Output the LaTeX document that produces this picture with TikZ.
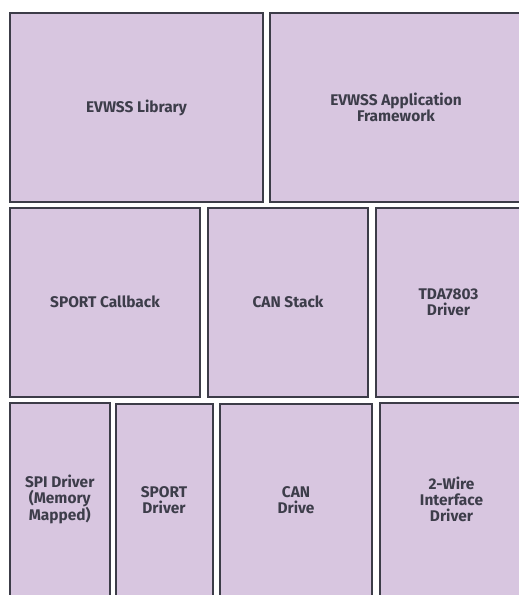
\documentclass[tikz,border=0pt]{standalone}
\usepackage{fontspec}
\setmainfont{Fira Sans}
\usetikzlibrary{positioning}

\definecolor{blockfill}{HTML}{D8C6E0}
\definecolor{blockline}{HTML}{3C3C48}
\definecolor{blocktext}{HTML}{3D3D4A}

\tikzset{
  block/.style={draw=blockline, fill=blockfill, line width=2bp,
    text=blocktext, font=\bfseries\fontsize{15.5}{16}\selectfont,
    align=center, inner sep=0pt},
}

\begin{document}
\begin{tikzpicture}[x=1bp,y=-1bp]
    \useasboundingbox (0,0) rectangle (519,595);
    \clip (0,0) rectangle (519,595);

    % top row
    \node[block, minimum width=253bp, minimum height=189bp] (lib) at (136.5,107.5) {EVWSS Library};
    \node[block, minimum width=252bp, minimum height=189bp] (app) at (396,107.5) {EVWSS Application\\Framework};

    % middle row
    \node[block, minimum width=190bp, minimum height=188.5bp] (callback) at (105,302.25) {SPORT Callback};
    \node[block, minimum width=160bp, minimum height=188.5bp] (canstack) at (288,302.25) {CAN Stack};
    \node[block, minimum width=145bp, minimum height=188.5bp] (tda) at (448.5,302.25) {TDA7803\\Driver};

    % bottom row
    \node[block, minimum width=99.5bp, minimum height=193bp] (spi) at (59.75,499.5) {SPI Driver\\(Memory\\Mapped)};
    \node[block, minimum width=97bp, minimum height=192bp] (sport) at (164,500) {SPORT\\Driver};
    \node[block, minimum width=152bp, minimum height=192bp] (candrv) at (296,500) {CAN\\Drive};
    \node[block, minimum width=143bp, minimum height=193bp] (twowire) at (451.5,499.5) {2-Wire\\Interface\\Driver};

\end{tikzpicture}
\end{document}
